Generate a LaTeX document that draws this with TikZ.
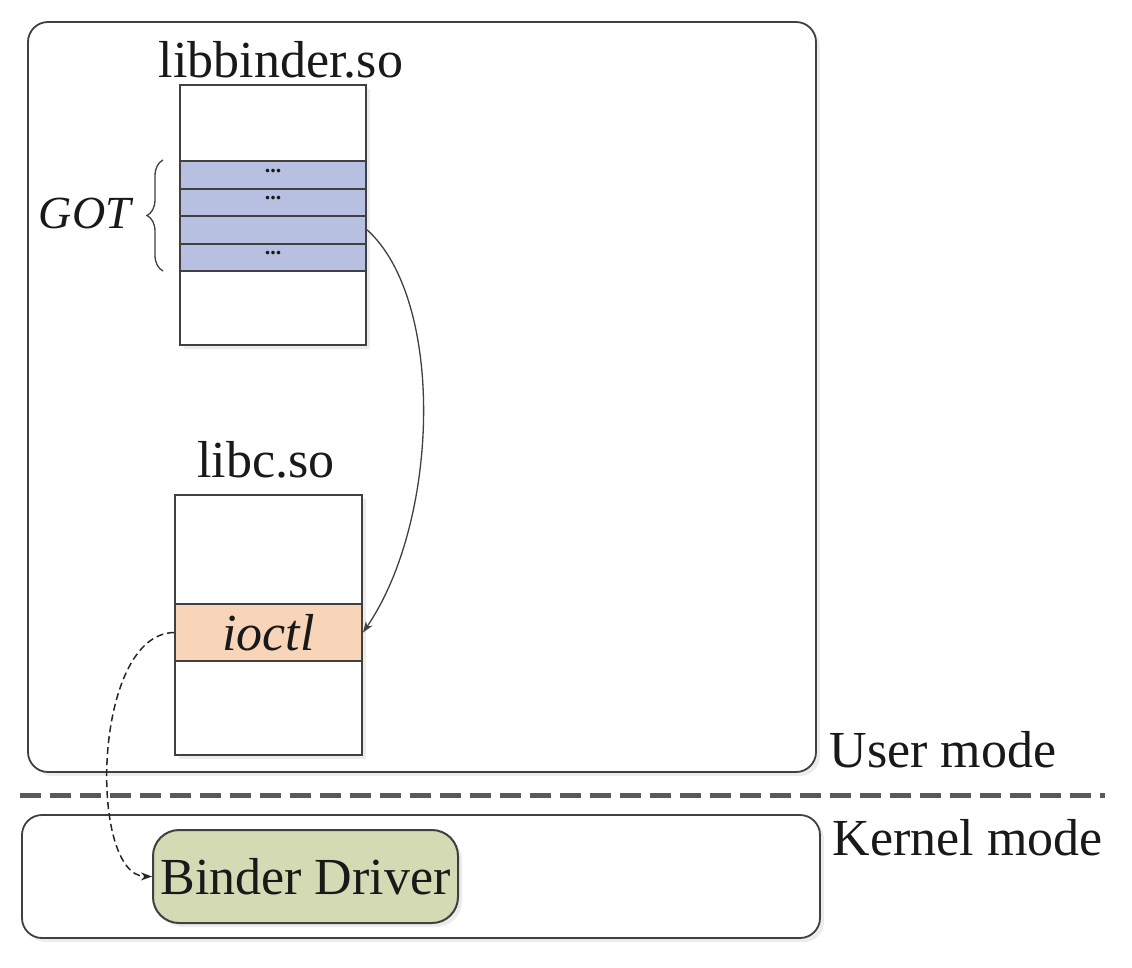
\documentclass[tikz,border=0pt]{standalone}
\usepackage{fontspec}
\setmainfont{Liberation Serif}
\usetikzlibrary{arrows.meta,decorations.pathreplacing,shadows}
\definecolor{linegray}{HTML}{404040}
\definecolor{gotblue}{HTML}{B7C0E0}
\definecolor{callpeach}{HTML}{F8D5B8}
\definecolor{drivergreen}{HTML}{D3DAB4}
\tikzset{% 
  mode box/.style={%
    draw=linegray,
    line width=1.8pt,
    fill=white,
    rounded corners=20pt,
    inner sep=0pt,
    drop shadow={opacity=0.15,shadow xshift=4pt,shadow yshift=-4pt}
  }
}
\tikzset{% 
  mem block/.style={%
    draw=linegray,
    line width=2pt,
    fill=white,
    inner sep=0pt,
    drop shadow={opacity=0.15,shadow xshift=4pt,shadow yshift=-4pt}
  }
}
\tikzset{% 
  mem row/.style={%
    draw=linegray,
    line width=2pt,
    inner sep=0pt,
    minimum width=186pt
  }
}
\tikzset{% 
  call directed/.style={%
    >={Stealth[length=11pt,width=8pt]},
    ->
  }
}
\newcommand{\bigtext}{\fontsize{52}{60}\selectfont}

\begin{document}
\begin{tikzpicture}[x=1pt,y=-1pt,text=black!90]
  \useasboundingbox (0,0) rectangle (1132,967);
  \node[mode box, minimum width=788pt, minimum height=750pt] (user) at (422,397) {};
  \node[mode box, minimum width=798pt, minimum height=123pt] (kernel) at (421,876.5) {};
  \node[anchor=west] (usertxt) at (826,750) {\bigtext User mode};
  \node[anchor=west] (kerneltxt) at (829,838) {\bigtext Kernel mode};
  \draw[color=black!65, line width=5pt, dash pattern=on 21pt off 9pt] (20,795) -- (1105,795);
  % libbinder.so
  \node (bindertxt) at (281,60) {\bigtext libbinder.so};
  \node[mem block, minimum width=186pt, minimum height=260pt] (binder) at (273,215) {};
  \node[mem row, fill=gotblue, minimum height=27.5pt] (got1) at (273,174.75) {};
  \node[mem row, fill=gotblue, minimum height=27.5pt] (got2) at (273,202.25) {};
  \node[mem row, fill=gotblue, minimum height=27.5pt] (got3) at (273,229.75) {};
  \node[mem row, fill=gotblue, minimum height=27.5pt] (got4) at (273,257.25) {};
  \foreach \r in {got1,got2,got4}
    \node[yshift=4pt] at (\r) {\fontsize{22}{24}\selectfont\bfseries ...};
  \coordinate (bracetop) at (163,160);
  \coordinate (bracebot) at (163,271);
  \draw[color=linegray, line width=1.3pt, decorate, decoration={brace,amplitude=16pt}] (bracebot) -- (bracetop);
  \node (gottxt) at (85,213) {\fontsize{46}{52}\selectfont\itshape GOT};
  % libc.so
  \node (libctxt) at (266,460) {\bigtext libc.so};
  \node[mem block, minimum width=187pt, minimum height=260pt] (libc) at (268.5,625) {};
  \node[mem row, fill=callpeach, minimum width=187pt, minimum height=57pt] (ioctl) at (268.5,632.5) {\bigtext\itshape ioctl};
  % kernel side
  \node[draw=linegray, line width=2pt, fill=drivergreen, rounded corners=26pt, minimum width=305pt, minimum height=93pt, inner sep=0pt,
        drop shadow={opacity=0.15,shadow xshift=4pt,shadow yshift=-4pt}] (driver) at (305.5,876.5) {\bigtext Binder Driver};
  \draw[call directed, color=linegray, line width=1.3pt] (got3.east) .. controls (445,300) and (440,520) .. (ioctl.east);
  \draw[call directed, color=black!85, line width=1.5pt, dash pattern=on 7pt off 4pt] (ioctl.west) .. controls (92,634) and (88,876) .. (driver.west);
\end{tikzpicture}
\end{document}
